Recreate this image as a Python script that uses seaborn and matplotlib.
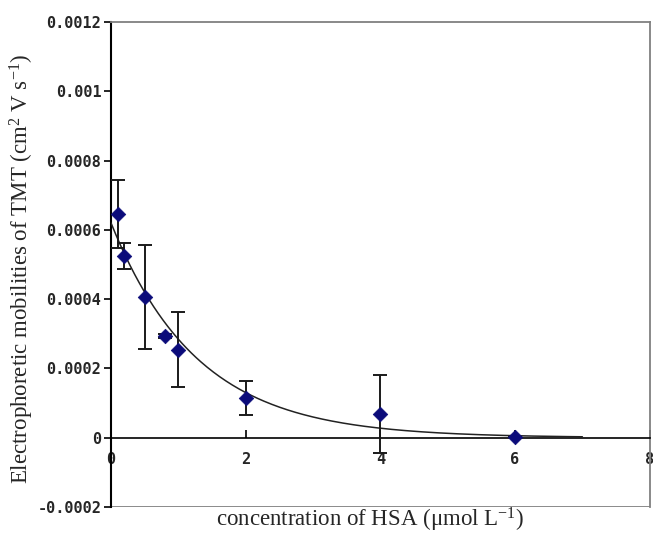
import numpy as np
import pandas as pd
import matplotlib
matplotlib.use("Agg")
import matplotlib.pyplot as plt
import seaborn as sns

# Data
conc = [0.1, 0.2, 0.5, 0.8, 1.0, 2.0, 4.0, 6.0]
mobility = [0.000646, 0.000525, 0.000407, 0.000294, 0.000254, 0.000115, 0.000069, 0.000003]
err = [0.000098, 0.000038, 0.00015, 0.000006, 0.000108, 0.000049, 0.000112, 0.0]
# Exponential trend line parameters: y = a * exp(-b x), x in [0, 7]
trend_a = 0.00062
trend_b = 0.78
trend_xmax = 7.0

xticks = [0, 2, 4, 6, 8]
yticks = [-0.0002, 0, 0.0002, 0.0004, 0.0006, 0.0008, 0.001, 0.0012]
ytick_labels = ["-0.0002", "0", "0.0002", "0.0004", "0.0006", "0.0008", "0.001", "0.0012"]

sns.set_style("white")
plt.rcParams['font.family'] = ['DejaVu Sans']
plt.rcParams['mathtext.fontset'] = 'custom'
plt.rcParams['mathtext.rm'] = 'Liberation Serif'
plt.rcParams['mathtext.it'] = 'Liberation Serif'
plt.rcParams['mathtext.default'] = 'rm'

fig = plt.figure(figsize=(6.53, 5.34), dpi=100)
ax = fig.add_axes([0.170, 0.0506, 0.825, 0.9082])

df = pd.DataFrame({"conc": conc, "mobility": mobility, "err": err})

# trend curve
xs = np.linspace(0, trend_xmax, 300)
tdf = pd.DataFrame({"x": xs, "y": trend_a * np.exp(-trend_b * xs)})
sns.lineplot(data=tdf, x="x", y="y", ax=ax, color="#222222", lw=1.1, zorder=3)

# error bars
ax.errorbar(df["conc"], df["mobility"], yerr=df["err"], fmt="none",
            ecolor="#1a1a1a", elinewidth=1.4, capsize=5, capthick=1.4, zorder=4)

# points
sns.scatterplot(data=df, x="conc", y="mobility", ax=ax, marker="D", s=55,
                color="#0b0b7a", edgecolor="#0b0b7a", linewidth=0.5, zorder=5)

ax.set_xlim(0, 8)
ax.set_ylim(-0.0002, 0.0012)

# x axis crosses at zero
ax.spines['bottom'].set_position(('data', 0))
ax.spines['bottom'].set_color('black')
ax.spines['bottom'].set_linewidth(1.2)
ax.spines['left'].set_color('black')
ax.spines['left'].set_linewidth(1.5)
for s in ['top', 'right']:
    ax.spines[s].set_color('#808080')
    ax.spines[s].set_linewidth(1.3)
# bottom border of plot area
ax.axhline(-0.0002, color='#808080', lw=2.0, zorder=1)

mono = dict(family='DejaVu Sans Mono', size=11, weight='bold')
ax.set_xticks(xticks)
ax.set_xticklabels([str(t) for t in xticks], **mono)
ax.set_yticks(yticks)
ax.set_yticklabels(ytick_labels, **mono)
ax.tick_params(axis='x', direction='in', length=6, width=1.2, color='black', pad=10, bottom=True)
ax.tick_params(axis='y', direction='out', length=5, width=1.2, color='black', pad=2, left=True)

serif = dict(family='Liberation Serif', size=16.5)
ax.set_xlabel(r"concentration of HSA ($\mathregular{\mu}$mol L$^{\mathregular{-1}}$)", **serif)
ax.xaxis.set_label_coords(0.48, 0.003)
ax.set_ylabel(r"Electrophoretic mobilities of TMT (cm$^{\mathregular{2}}$ V s$^{\mathregular{-1}}$)", **serif)
ax.yaxis.set_label_coords(-0.140, 0.49)

fig.savefig("out.png", dpi=100)
